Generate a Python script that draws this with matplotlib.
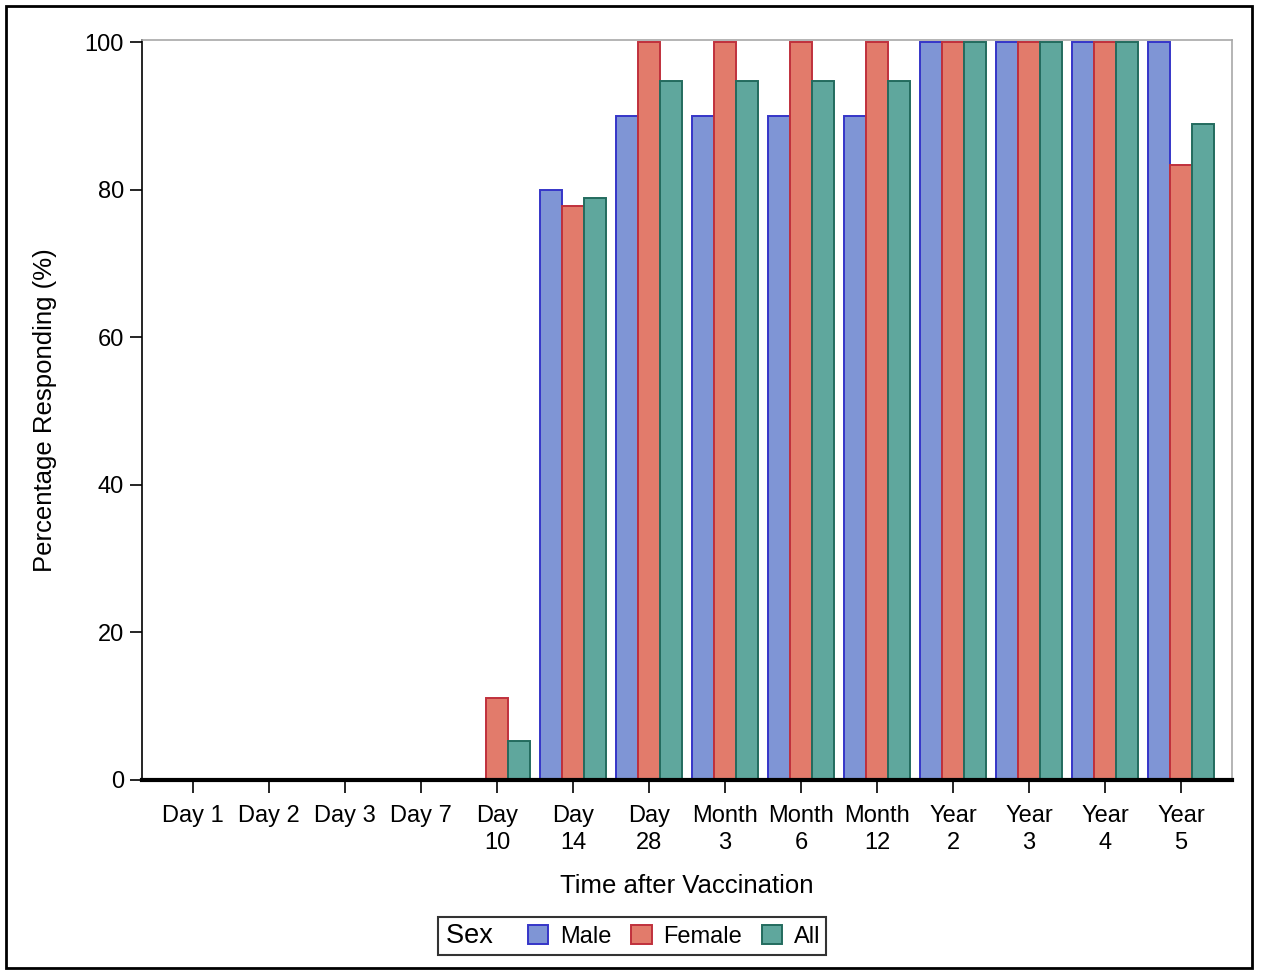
import matplotlib
matplotlib.use("Agg")
import matplotlib.pyplot as plt
from matplotlib.patches import Rectangle
import numpy as np

plt.rcParams['font.family'] = ['Liberation Sans', 'DejaVu Sans']

categories = ["Day 1", "Day 2", "Day 3", "Day 7", "Day\n10", "Day\n14", "Day\n28",
              "Month\n3", "Month\n6", "Month\n12", "Year\n2", "Year\n3", "Year\n4", "Year\n5"]
male = [0, 0, 0, 0, 0, 80, 90, 90, 90, 90, 100, 100, 100, 100]
female = [0, 0, 0, 0, 11.1, 77.8, 100, 100, 100, 100, 100, 100, 100, 83.3]
all_ = [0, 0, 0, 0, 5.3, 78.9, 94.7, 94.7, 94.7, 94.7, 100, 100, 100, 88.9]
series = [("Male", male, "#7F95D5", "#3535C8"),
          ("Female", female, "#E27B6B", "#C0303C"),
          ("All", all_, "#5FA79D", "#236B5E")]
yticks = [0, 20, 40, 60, 80, 100]

fig = plt.figure(figsize=(12.62, 9.73), dpi=100)
ax = fig.add_axes([142/1262, 1-780/973, (1232-142)/1262, (780-40)/973])

x = np.arange(len(categories))
w = 0.29
handles = []
for i, (name, vals, fc, ec) in enumerate(series):
    b = ax.bar(x + (i-1)*w, vals, width=w, color=fc, edgecolor=ec, linewidth=1.4, label=name)
    handles.append(b)

ax.set_xlim(-0.67, len(categories)-1+0.67)
ax.set_ylim(0, 100.3)
ax.set_xticks(x)
ax.set_xticklabels(categories, fontsize=17, linespacing=1.3)
ax.set_yticks(yticks)
ax.set_yticklabels([str(t) for t in yticks], fontsize=17)
ax.tick_params(axis='both', length=9, width=1.2, color='black')
ax.tick_params(axis='x', pad=9)
ax.tick_params(axis='y', pad=4)
ax.set_xlabel("Time after Vaccination", fontsize=18.5, labelpad=14)
ax.set_ylabel("Percentage Responding (%)", fontsize=18.5, labelpad=20)

for s in ['top', 'right']:
    ax.spines[s].set_color('#A8A8A8')
    ax.spines[s].set_linewidth(1.2)
ax.spines['left'].set_color('black')
ax.spines['left'].set_linewidth(1.2)
ax.spines['bottom'].set_color('black')
ax.spines['bottom'].set_linewidth(3)
ax.spines['bottom'].set_zorder(5)

# Outer figure frame
fig.patches.append(Rectangle((6/1262, 5/973), 1246/1262, 962/973, transform=fig.transFigure,
                             fill=False, edgecolor='black', linewidth=2))

blank = Rectangle((0, 0), 1, 1, fill=False, edgecolor='none', visible=False)
leg = fig.legend([blank] + handles, ["Sex  ", "Male", "Female", "All"], ncol=4,
                 loc='center', bbox_to_anchor=(632/1262, 1-936/973), fontsize=17,
                 frameon=True, fancybox=False, edgecolor='black', handlelength=0.85,
                 handleheight=0.85, handletextpad=0.5, columnspacing=0.85,
                 borderpad=0.25, borderaxespad=0)
leg.get_frame().set_linewidth(1.5)
leg.get_texts()[0].set_fontsize(19.5)
# collapse the empty handle slot in front of "Sex"
try:
    col0 = leg._legend_handle_box.get_children()[0]
    item0 = col0.get_children()[0]
    item0.get_children()[0].width = 2
    item0.sep = 0
except Exception:
    pass

fig.savefig("out.png", dpi=100)
